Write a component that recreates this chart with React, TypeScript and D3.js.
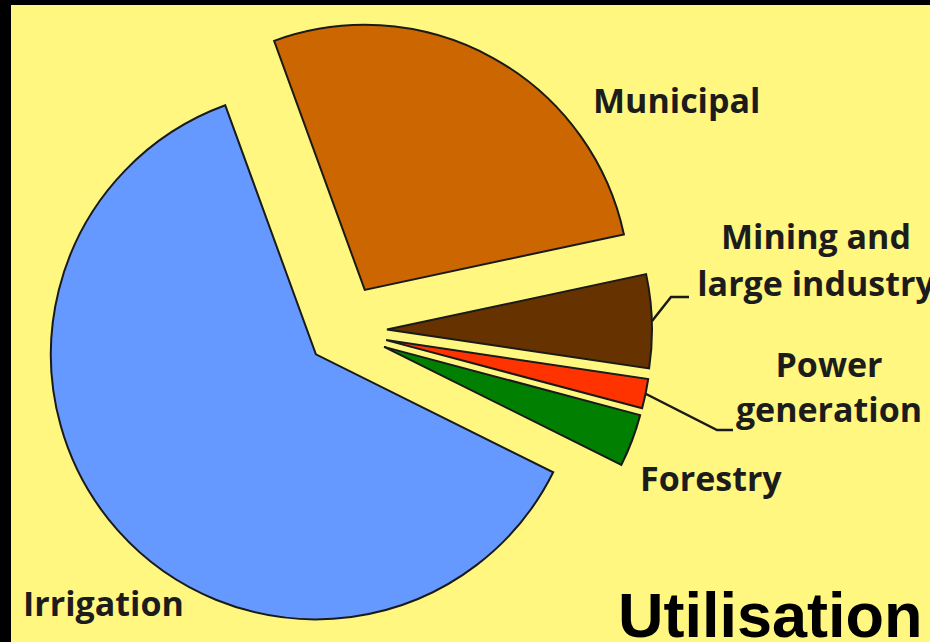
import * as d3 from "d3";

// Water use shares (%), clockwise from the top
const categories = ["Municipal", "Mining and large industry", "Power generation", "Forestry", "Irrigation"];
const shares = [27.2, 5.7, 1.8, 3.2, 62.1];
const colors = ["#CC6600", "#663300", "#FF3300", "#007F00", "#6699FF"];
// how far each slice is pulled out of the pie
const explode = [47, 45, 45, 45, 35];

const width = 930;
const height = 642;
const cx = 342;
const cy = 331;
const radius = 265;
const labelFont = "'Open Sans', 'Noto Sans', sans-serif";

export default function App() {
  const deg = Math.PI / 180;
  const pie = d3
    .pie<number>()
    .sort(null)
    .startAngle(-20 * deg)
    .endAngle(340 * deg);
  const arcs = pie(shares);
  const arc = d3.arc<d3.PieArcDatum<number>>().innerRadius(0).outerRadius(radius);

  // offset of a slice along its bisector
  const shift = (i: number) => {
    const a = (arcs[i].startAngle + arcs[i].endAngle) / 2;
    return [Math.sin(a) * explode[i], -Math.cos(a) * explode[i]];
  };
  // point on the outer edge of a slice, at its bisector
  const edge = (i: number) => {
    const a = (arcs[i].startAngle + arcs[i].endAngle) / 2;
    const [dx, dy] = shift(i);
    return [cx + dx + Math.sin(a) * radius, cy + dy - Math.cos(a) * radius];
  };

  const mining = edge(1);
  const power = edge(2);

  return (
    <div style={{position: "fixed", left: 0, top: 0}}>
      <svg width={width} height={height} style={{display: "block"}}>
        <rect x={0} y={0} width={width} height={height} fill="#000" />
        <rect x={11} y={5} width={width - 11} height={height - 5} fill="#FFF780" />

        <g transform={`translate(${cx},${cy})`}>
          {arcs.map((d, i) => {
            const [dx, dy] = shift(i);
            return (
              <path
                key={categories[i]}
                d={arc(d) ?? ""}
                transform={`translate(${dx},${dy})`}
                fill={colors[i]}
                stroke="#1a1a1a"
                strokeWidth={2}
                strokeLinejoin="miter"
              />
            );
          })}
        </g>

        {/* leader lines */}
        <path
          d={`M${mining[0]},${mining[1]} L671,297 L689,297`}
          fill="none"
          stroke="#1a1a1a"
          strokeWidth={2.5}
        />
        <path
          d={`M${power[0]},${power[1]} L717,430 L733,430`}
          fill="none"
          stroke="#1a1a1a"
          strokeWidth={2.5}
        />

        <g fontFamily={labelFont} fontWeight={700} fontSize={34} fill="#1c1c1c">
          <text x={593} y={113}>Municipal</text>
          <text x={816} y={249} textAnchor="middle">Mining and</text>
          <text x={816} y={296} textAnchor="middle">large industry</text>
          <text x={829} y={377} textAnchor="middle">Power</text>
          <text x={829} y={422} textAnchor="middle">generation</text>
          <text x={640} y={491}>Forestry</text>
          <text x={23} y={616}>Irrigation</text>
        </g>

        <text
          x={618}
          y={637}
          fontFamily="'Liberation Sans', Arial, sans-serif"
          fontWeight={700}
          fontSize={63}
          fill="#000"
        >
          Utilisation
        </text>
      </svg>
    </div>
  );
}
